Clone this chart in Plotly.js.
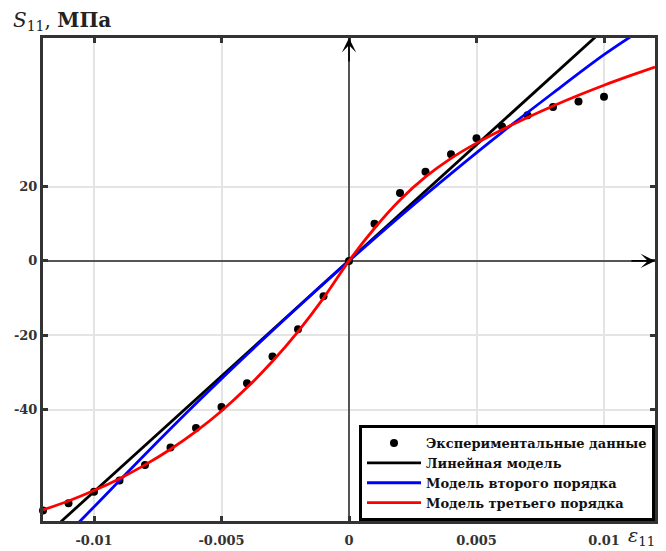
<!DOCTYPE html>
<html>
<head>
<meta charset="utf-8">
<script src="https://cdn.plot.ly/plotly-3.0.1.min.js"></script>
<style>html,body{margin:0;padding:0;background:#fff;}#chart{width:666px;height:551px;}</style>
</head>
<body>
<div id="chart"></div>
<script>
// Experimental data
var expX = [-0.012,-0.011,-0.010,-0.009,-0.008,-0.007,-0.006,-0.005,-0.004,-0.003,-0.002,-0.001,0,0.001,0.002,0.003,0.004,0.005,0.006,0.007,0.008,0.009,0.010];
var expY = [-67.2,-65.2,-62.1,-59.1,-54.9,-50.2,-45.0,-39.3,-32.9,-25.7,-18.4,-9.5,0,10.0,18.3,24.0,28.7,33.0,36.2,39.2,41.4,42.9,44.2];

// Linear model (read end points)
var linX = [-0.0113, 0.0097];
var linY = [-70.2, 60.5];

// Second order model (read points)
var quadX = [-0.0106,-0.010,-0.008,-0.006,-0.004,-0.002,0,0.002,0.004,0.006,0.008,0.010,0.0111];
var quadY = [-70.4,-66.2,-52.1,-38.4,-25.2,-12.4,0,12.0,23.5,34.6,45.2,55.5,60.6];

// Third order model (read points)
var cubX = [-0.012,-0.011,-0.010,-0.009,-0.008,-0.007,-0.006,-0.005,-0.004,-0.003,-0.002,-0.001,0,0.001,0.002,0.003,0.004,0.005,0.006,0.007,0.008,0.009,0.010,0.011,0.012];
var cubY = [-67.0,-64.6,-61.8,-58.6,-54.9,-50.7,-45.9,-40.4,-34.1,-27.0,-19.0,-10.0,0,8.8,16.4,22.6,27.6,31.7,35.3,38.6,41.7,44.6,47.3,49.8,52.2];

var names = ['Экспериментальные данные','Линейная модель','Модель второго порядка','Модель третьего порядка'];
var xTicks = [-0.01,-0.005,0,0.005,0.01];
var xTickText = ['-0.01','-0.005','0','0.005','0.01'];
var yTicks = [-40,-20,0,20];
var yTickText = ['-40','-20','0','20'];

var serif = 'DejaVu Serif, Liberation Serif, serif';

var traces = [
  {x: expX, y: expY, name: names[0], mode: 'markers', type: 'scatter',
   marker: {color: '#000', size: 8}, cliponaxis: false},
  {x: linX, y: linY, name: names[1], mode: 'lines', type: 'scatter',
   line: {color: '#000', width: 2.8}},
  {x: quadX, y: quadY, name: names[2], mode: 'lines', type: 'scatter',
   line: {color: '#0000ff', width: 2.8, shape: 'spline'}},
  {x: cubX, y: cubY, name: names[3], mode: 'lines', type: 'scatter',
   line: {color: '#ff0000', width: 2.8, shape: 'spline'}}
];

var axCommon = {
  showline: true, linecolor: '#333', linewidth: 3, mirror: 'ticks',
  ticks: 'inside', ticklen: 5, tickwidth: 3, tickcolor: '#333',
  showgrid: true, gridcolor: '#e4e4e4', gridwidth: 2,
  zeroline: true, zerolinecolor: '#555', zerolinewidth: 1.5,
  tickfont: {family: serif, size: 13, color: '#333', weight: 'bold'},
  tickmode: 'array'
};

var layout = {
  width: 666, height: 551,
  margin: {l: 43, r: 11, t: 38, b: 30},
  paper_bgcolor: '#fff', plot_bgcolor: '#fff',
  showlegend: true,
  xaxis: Object.assign({}, axCommon, {range: [-0.012, 0.012], tickvals: xTicks, ticktext: xTickText, ticklabelstandoff: 5}),
  yaxis: Object.assign({}, axCommon, {range: [-70, 60], tickvals: yTicks, ticktext: yTickText}),
  legend: {
    x: 1, y: 0, xanchor: 'right', yanchor: 'bottom',
    bgcolor: '#fff', bordercolor: '#000', borderwidth: 3,
    font: {family: serif, size: 13, color: '#111', weight: 'bold'},
    itemwidth: 54,
    tracegroupgap: 0
  },
  annotations: [
    {xref: 'x', yref: 'y', x: 0, y: 60, ax: 0, ay: 25, text: '', showarrow: true,
     arrowhead: 3, arrowsize: 1.5, arrowwidth: 1.6, arrowcolor: '#000'},
    {xref: 'x', yref: 'y', x: 0.012, y: 0, ax: -25, ay: 0, text: '', showarrow: true,
     arrowhead: 3, arrowsize: 1.5, arrowwidth: 1.6, arrowcolor: '#000'},
    {xref: 'paper', yref: 'paper', x: -0.052, y: 1.036, xanchor: 'left', yanchor: 'middle',
     text: '<i>S</i><sub>11</sub>, <b>МПа</b>', showarrow: false,
     font: {family: serif, size: 20, color: '#222'}},
    {xref: 'paper', yref: 'paper', x: 0.953, y: -0.032, xanchor: 'left', yanchor: 'middle',
     text: '<i>ε</i><sub>11</sub>', showarrow: false,
     font: {family: serif, size: 19, color: '#222'}}
  ]
};

Plotly.newPlot('chart', traces, layout, {staticPlot: true, displayModeBar: false});
</script>
</body>
</html>
